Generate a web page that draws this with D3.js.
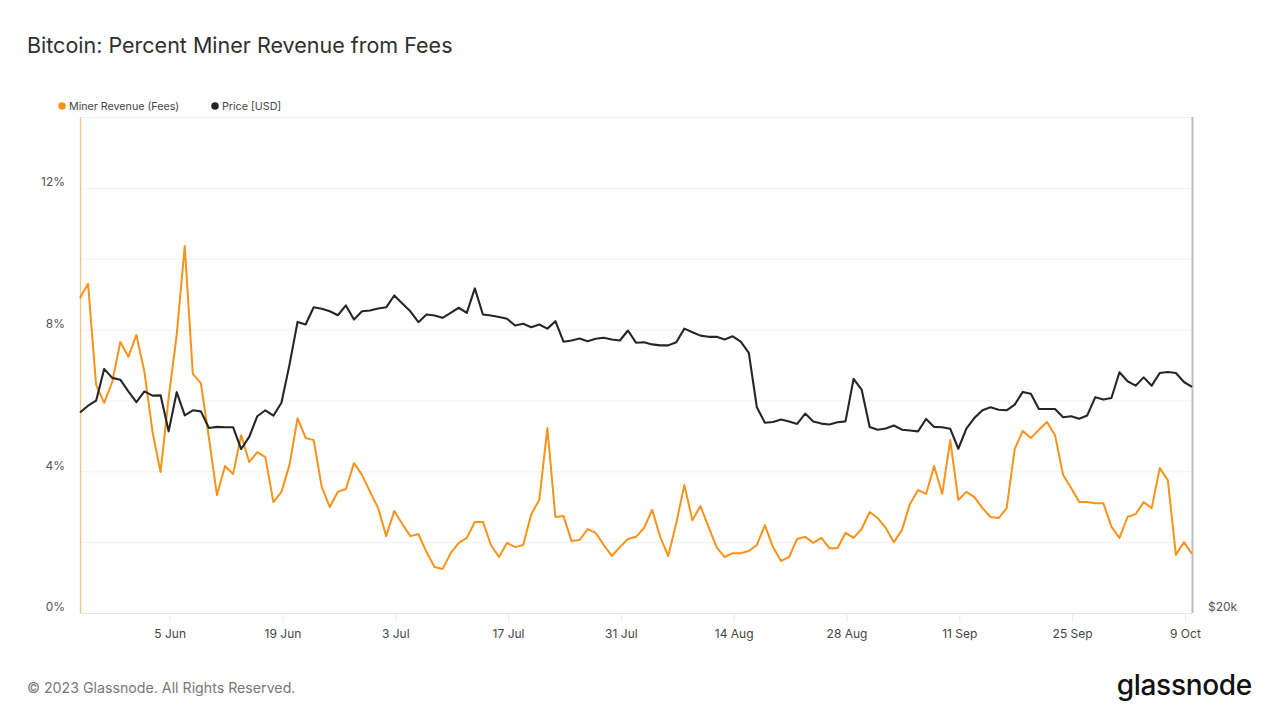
<!DOCTYPE html>
<html>
<head>
<meta charset="utf-8">
<script src="https://cdn.jsdelivr.net/npm/d3@7"></script>
<style>
  html, body { margin: 0; padding: 0; background: #fff; }
  svg { display: block; font-family: Inter, "Noto Sans", sans-serif; }
</style>
</head>
<body>
<svg id="chart" width="1280" height="720"></svg>
<script>
// ---------- DATA ----------
const startDate = "2023-05-25";
const feesPct = [
  8.89, 9.29, 6.44, 5.93, 6.52, 7.65, 7.23, 7.85, 6.80, 5.11,
  3.98, 6.07, 7.85, 10.36, 6.75, 6.49, 4.94, 3.33, 4.15, 3.92,
  5.02, 4.26, 4.54, 4.40, 3.13, 3.42, 4.18, 5.50, 4.94, 4.88,
  3.56, 2.99, 3.42, 3.50, 4.23, 3.90, 3.42, 2.96, 2.17, 2.88,
  2.51, 2.17, 2.23, 1.72, 1.30, 1.24, 1.69, 1.98, 2.12, 2.57,
  2.57, 1.92, 1.58, 1.98, 1.86, 1.92, 2.79, 3.19, 5.22, 2.71,
  2.74, 2.03, 2.06, 2.37, 2.26, 1.92, 1.61, 1.86, 2.09, 2.15,
  2.40, 2.91, 2.15, 1.61, 2.54, 3.61, 2.62, 3.02, 2.43, 1.86,
  1.58, 1.69, 1.69, 1.75, 1.92, 2.48, 1.86, 1.47, 1.58, 2.09,
  2.15, 1.98, 2.12, 1.83, 1.83, 2.26, 2.12, 2.37, 2.85, 2.68,
  2.40, 2.00, 2.34, 3.08, 3.47, 3.36, 4.15, 3.36, 4.88, 3.19,
  3.42, 3.27, 2.96, 2.71, 2.68, 2.96, 4.63, 5.14, 4.94, 5.17,
  5.39, 5.02, 3.90, 3.53, 3.13, 3.13, 3.10, 3.10, 2.43, 2.12,
  2.71, 2.79, 3.13, 2.96, 4.09, 3.75, 1.64, 2.00, 1.67
];
const priceUSD = [
  26470, 26720, 26910, 28130, 27780, 27710, 27260, 26850, 27260, 27100,
  27110, 25780, 27230, 26360, 26550, 26510, 25900, 25940, 25930, 25930,
  25150, 25580, 26330, 26550, 26350, 26830, 28300, 30040, 29930, 30660,
  30600, 30490, 30320, 30740, 30140, 30490, 30520, 30610, 30660, 31170,
  30820, 30490, 30030, 30350, 30310, 30210, 30420, 30640, 30420, 31480,
  30350, 30310, 30250, 30170, 29890, 29960, 29820, 29930, 29760, 30070,
  29220, 29270, 29350, 29240, 29340, 29380, 29310, 29270, 29680, 29180,
  29200, 29110, 29070, 29070, 29200, 29760, 29610, 29470, 29420, 29420,
  29310, 29440, 29220, 28770, 26660, 26090, 26120, 26210, 26140, 26050,
  26430, 26140, 26060, 26030, 26110, 26140, 27740, 27330, 25940, 25840,
  25880, 25990, 25840, 25810, 25780, 26230, 25940, 25930, 25870, 25160,
  25880, 26270, 26550, 26660, 26570, 26550, 26760, 27240, 27170, 26600,
  26600, 26600, 26290, 26330, 26240, 26360, 27040, 26950, 27010, 28000,
  27650, 27480, 27800, 27480, 27970, 28010, 27970, 27620, 27430
];
const xTickLabels = ["5 Jun", "19 Jun", "3 Jul", "17 Jul", "31 Jul", "14 Aug", "28 Aug", "11 Sep", "25 Sep", "9 Oct"];
const xTickDates = ["2023-06-05", "2023-06-19", "2023-07-03", "2023-07-17", "2023-07-31", "2023-08-14", "2023-08-28", "2023-09-11", "2023-09-25", "2023-10-09"];
const yGridValues = [0, 2, 4, 6, 8, 10, 12, 14];
const yLabelValues = [0, 4, 8, 12];
const priceTickValues = [20000];
const seriesNames = ["Miner Revenue (Fees)", "Price [USD]"];

// ---------- SETUP ----------
const parse = d3.utcParse("%Y-%m-%d");
const start = parse(startDate);
const dates = feesPct.map((_, i) => d3.utcDay.offset(start, i));

const m = { left: 80, right: 1192, top: 117, bottom: 613 };
const ORANGE = "#f7931a", DARK = "#262626";

const svg = d3.select("#chart");

const x = d3.scaleUtc()
  .domain([start, d3.utcDay.offset(start, feesPct.length - 1)])
  .range([m.left, m.right]);
const y = d3.scaleLinear().domain([0, 14]).range([m.bottom, m.top]);
const yP = d3.scaleLog().domain([20000, 40000]).range([m.bottom, m.top]);

// Title
svg.append("text")
  .attr("x", 27).attr("y", 53)
  .attr("font-size", 21.5).attr("fill", "#2f2f2f")
  .text("Bitcoin: Percent Miner Revenue from Fees");

// Legend
const legend = svg.append("g").attr("font-size", 10.7).attr("fill", "#444");
const legendItems = [
  { name: seriesNames[0], color: ORANGE, x: 62 },
  { name: seriesNames[1], color: DARK, x: 215 }
];
legendItems.forEach(d => {
  legend.append("circle").attr("cx", d.x).attr("cy", 106).attr("r", 3.8).attr("fill", d.color);
  legend.append("text").attr("x", d.x + 7).attr("y", 110).text(d.name);
});

// Gridlines
svg.append("g").selectAll("line").data(yGridValues).join("line")
  .attr("x1", m.left).attr("x2", m.right)
  .attr("y1", d => y(d) + 0.5).attr("y2", d => y(d) + 0.5)
  .attr("stroke", d => d === 0 ? "#e4e4e4" : "#f1f1f1").attr("stroke-width", 1);

// Left axis (labels)
const yAxis = d3.axisLeft(y).tickValues(yLabelValues).tickFormat(d => d + "%").tickSize(0).tickPadding(0);
const gy = svg.append("g").attr("transform", `translate(65,-6)`).call(yAxis);
gy.select(".domain").remove();
gy.selectAll("text").attr("font-size", 12).attr("fill", "#555").attr("font-family", "Inter, sans-serif");

// Left axis line (orange)
svg.append("line").attr("x1", m.left + 0.5).attr("x2", m.left + 0.5)
  .attr("y1", m.top).attr("y2", m.bottom)
  .attr("stroke", "#f8c283").attr("stroke-width", 1.3);

// Bottom axis
const xAxis = d3.axisBottom(x)
  .tickValues(xTickDates.map(parse))
  .tickFormat((d, i) => xTickLabels[i])
  .tickSize(9).tickPadding(7);
const gx = svg.append("g").attr("transform", `translate(1,${m.bottom})`).call(xAxis);
gx.select(".domain").remove();
gx.selectAll(".tick line").attr("stroke", "#ececec");
gx.selectAll("text").attr("font-size", 12).attr("fill", "#444").attr("font-family", "Inter, sans-serif");

// Right axis
const pAxis = d3.axisRight(yP).tickValues(priceTickValues)
  .tickFormat(d => "$" + d3.format("~s")(d)).tickSize(0).tickPadding(0);
const gp = svg.append("g").attr("transform", `translate(1208,-6)`).call(pAxis);
gp.select(".domain").remove();
gp.selectAll("text").attr("font-size", 12).attr("fill", "#555").attr("font-family", "Inter, sans-serif");

svg.append("line").attr("x1", m.right + 0.5).attr("x2", m.right + 0.5)
  .attr("y1", m.top).attr("y2", m.bottom)
  .attr("stroke", "#bdbdbd").attr("stroke-width", 2);

// Lines
const feeLine = d3.line().x((d, i) => x(dates[i])).y(d => y(d));
const priceLine = d3.line().x((d, i) => x(dates[i])).y(d => yP(d));

svg.append("path").datum(feesPct)
  .attr("d", feeLine).attr("fill", "none")
  .attr("stroke", ORANGE).attr("stroke-width", 2).attr("stroke-linejoin", "round");

svg.append("path").datum(priceUSD)
  .attr("d", priceLine).attr("fill", "none")
  .attr("stroke", DARK).attr("stroke-width", 2.1).attr("stroke-linejoin", "round");

// Footer
svg.append("text").attr("x", 27).attr("y", 693)
  .attr("font-size", 14.2).attr("fill", "#777")
  .text("© 2023 Glassnode. All Rights Reserved.");

svg.append("text").attr("x", 1252).attr("y", 695).attr("text-anchor", "end")
  .attr("font-size", 28).attr("font-weight", 500).attr("fill", "#111")
  .attr("letter-spacing", "-0.3")
  .text("glassnode");
</script>
</body>
</html>
